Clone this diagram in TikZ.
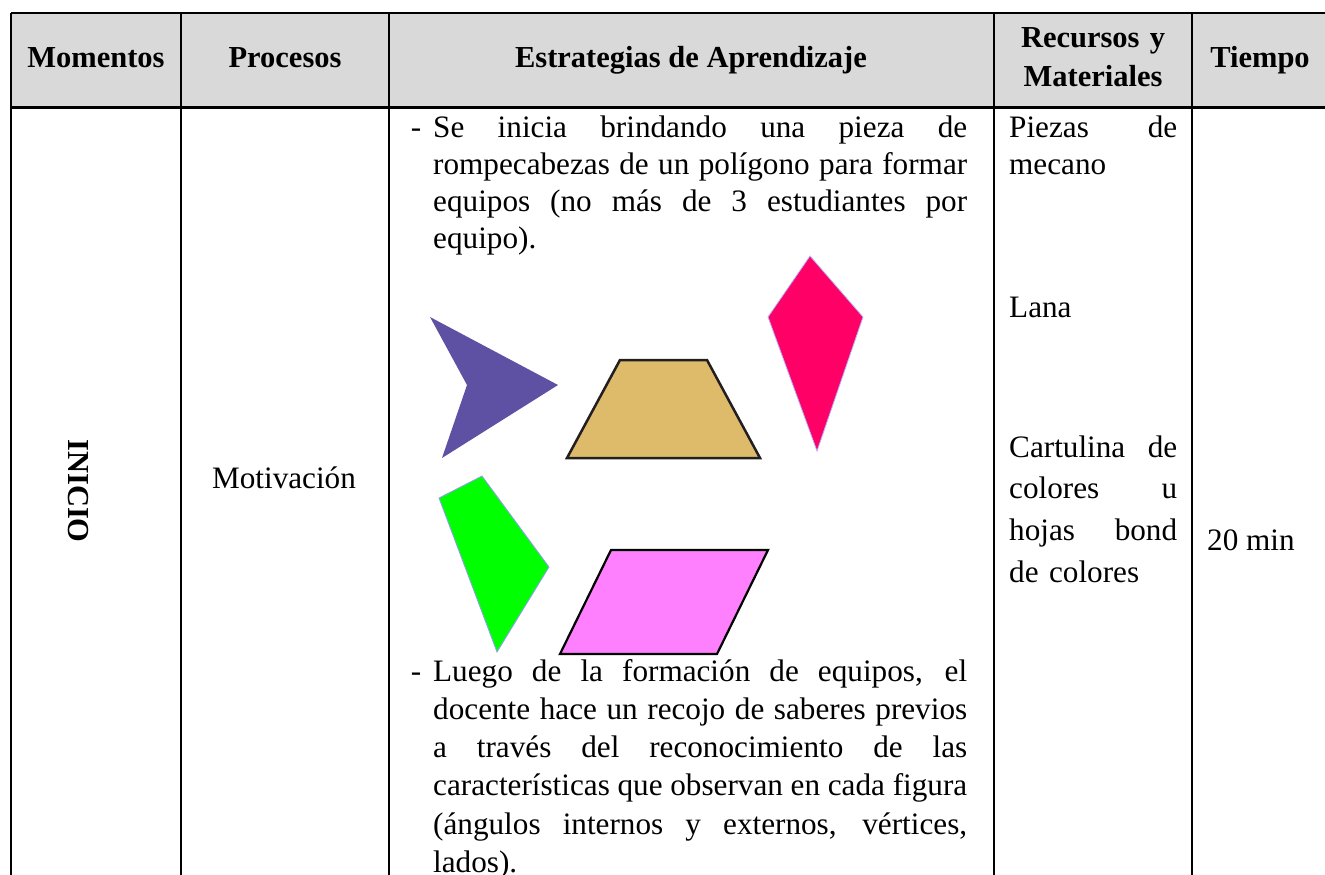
\documentclass[tikz,border=0pt]{standalone}
\usepackage{fontspec}
\setmainfont{Liberation Serif}
\usepackage{tikz}
\definecolor{hdrgray}{RGB}{217,217,217}
\definecolor{piecepurple}{RGB}{94,80,163}
\definecolor{piecetan}{RGB}{221,187,106}
\definecolor{piecered}{RGB}{255,0,102}
\definecolor{piecegreen}{RGB}{0,255,0}
\definecolor{piecepink}{RGB}{255,128,255}
\definecolor{pieceedge}{RGB}{35,31,32}

\begin{document}
\begin{tikzpicture}[x=1pt,y=-1pt,
    hdr/.style = {font=\fontsize{30.5}{39}\selectfont\bfseries, inner sep=0, anchor=base},
    body/.style = {font=\fontsize{31.2}{41.7}\selectfont, inner sep=0, anchor=base west},
    para/.style = {body, text width=534pt, align=justify},
    grid/.style = {line width=2.6pt}]
\clip (0,0) rectangle (1325,875);
\fill[hdrgray] (11,13) rectangle (1340,107);
\draw[grid] (11,13) -- (1340,13);
\draw[grid, line width=3pt] (11,107) -- (1340,107);
\foreach \x in {11,181,389,994,1192}
    \draw[grid] (\x,13) -- (\x,880);

\node[hdr] (momentos) at (96,67) {Momentos};
\node[hdr] (procesos) at (285,67) {Procesos};
\node[hdr] (estrategias) at (691,67) {Estrategias de Aprendizaje};
\node[hdr, text width=190pt, align=center] (recursos) at (1093,48) {Recursos y\\Materiales};
\node[hdr] (tiempo) at (1260,67) {Tiempo};

\node[hdr, anchor=center, rotate=-90] (inicio) at (78,491) {INICIO};
\node[body, anchor=base] (motivacion) at (284,488) {Motivación};

\node[para, font=\fontsize{31.2}{37.3}\selectfont] (pasoA) at (433,137) {\llap{-\hspace{12pt}}Se inicia brindando una pieza de\linebreak rompecabezas de un polígono para formar\linebreak equipos (no más de 3 estudiantes por\linebreak equipo).};
\node[para, font=\fontsize{31.2}{38.3}\selectfont] (pasoB) at (433,681) {\llap{-\hspace{12pt}}Luego de la formación de equipos, el\linebreak docente hace un recojo de saberes previos\linebreak a través del reconocimiento de las\linebreak características que observan en cada figura\linebreak (ángulos internos y externos, vértices,\linebreak lados).};

\node[body, text width=168pt, font=\fontsize{31.2}{37.3}\selectfont] (piezas) at (1009,137) {Piezas\hfill de\\mecano};
\node[body] (lana) at (1009,317) {Lana};
\node[body, text width=168pt] (cartulina) at (1009,457) {Cartulina\hfill de\\colores\hfill u\\hojas\hfill bond\\de colores};
\node[body] (minutos) at (1207,550) {20 min};

\fill[piecepurple] (430,317) -- (558,385) -- (442,458) -- (467,385) -- cycle;
\filldraw[fill=piecetan, draw=pieceedge, line width=2.5pt] (620,360) -- (707,360) -- (760,458) -- (567,458) -- cycle;
\filldraw[fill=piecered, draw=blue!30, line width=0.8pt] (810,256) -- (863,317) -- (817,451) -- (768,317) -- cycle;
\filldraw[fill=piecegreen, draw=blue!40, line width=0.8pt] (482,476) -- (549,567) -- (497,652) -- (439,498) -- cycle;
\filldraw[fill=piecepink, draw=black, line width=2.2pt] (611,550) -- (768,550) -- (717,654) -- (560,654) -- cycle;
\end{tikzpicture}
\end{document}
